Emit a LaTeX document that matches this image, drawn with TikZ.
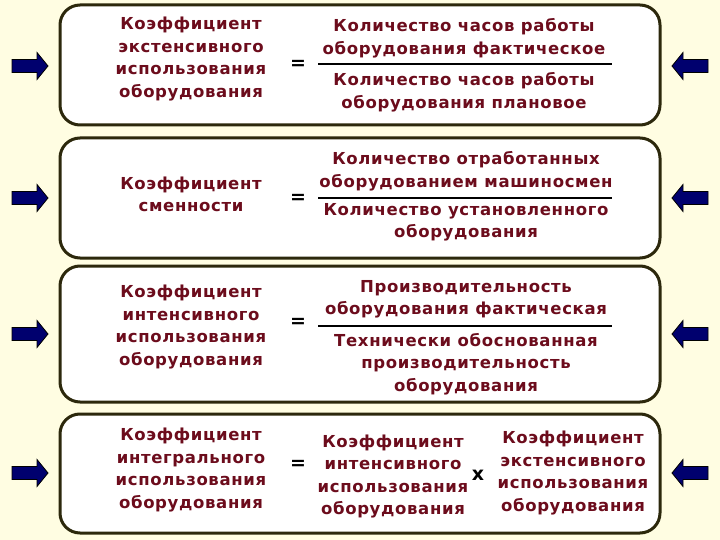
\documentclass[tikz,border=0pt]{standalone}
\usepackage{fontspec}
\setmainfont{DejaVu Sans}[LetterSpace=4]
\usetikzlibrary{positioning}

\definecolor{bgcol}{RGB}{255,253,226}
\definecolor{framecol}{RGB}{44,40,12}
\definecolor{txtcol}{RGB}{108,12,28}
\definecolor{arrcol}{RGB}{0,0,110}

\tikzset{
  panel/.style={draw=framecol, line width=3pt, fill=white, rounded corners=20pt},
  txt/.style={text=txtcol, font=\bfseries\fontsize{16.5}{22.5}\selectfont,
              align=center, inner sep=0pt},
  sym/.style={font=\bfseries\fontsize{19}{19}\selectfont, inner sep=0pt},
  fracline/.style={line width=1.6pt},
  blockarrow/.style={fill=arrcol, draw=black, line width=0.8pt, line join=miter}
}

\begin{document}
\begin{tikzpicture}[x=1pt,y=-1pt]
  \fill[bgcol] (0,0) rectangle (720,540);
  \useasboundingbox (0,0) rectangle (720,540);

  % panels
  \draw[panel] (60,5) rectangle (660,125);
  \draw[panel] (60,138) rectangle (660,258);
  \draw[panel] (60,266) rectangle (660,402);
  \draw[panel] (60,414) rectangle (660,533);

  % arrows on both sides
  \foreach \y in {66,198,334,473}{
    \draw[blockarrow] (12,\y-6.5) -- (37,\y-6.5) -- (37,\y-13.5) -- (48,\y)
      -- (37,\y+13.5) -- (37,\y+6.5) -- (12,\y+6.5) -- cycle;
    \draw[blockarrow] (708,\y-6.5) -- (683,\y-6.5) -- (683,\y-13.5) -- (672,\y)
      -- (683,\y+13.5) -- (683,\y+6.5) -- (708,\y+6.5) -- cycle;
  }

  % extensive
  \node[txt] (ext) at (191,59) {Коэффициент\\экстенсивного\\использования\\оборудования};
  \node[sym] (eq1) at (298,65) {=};
  \node[txt] (num1) at (464,38) {Количество часов работы\\оборудования фактическое};
  \node[txt] (den1) at (464,92) {Количество часов работы\\оборудования плановое};
  \coordinate (l1a) at (318,64);
  \coordinate (l1b) at (612,64);
  \draw[fracline] (l1a) -- (l1b);

  % shift
  \node[txt] (shift) at (191,194.5) {Коэффициент\\сменности};
  \node[sym] (eq2) at (298,199) {=};
  \node[txt] (num2) at (466,171) {Количество отработанных\\оборудованием машиносмен};
  \node[txt] (den2) at (466,222.5) {Количество установленного\\оборудования};
  \coordinate (l2a) at (318,198);
  \coordinate (l2b) at (612,198);
  \draw[fracline] (l2a) -- (l2b);

  % intensive
  \node[txt] (int) at (191,327) {Коэффициент\\интенсивного\\использования\\оборудования};
  \node[sym] (eq3) at (298,323) {=};
  \node[txt] (num3) at (466,299.5) {Производительность\\оборудования фактическая};
  \node[txt] (den3) at (466,364) {Технически обоснованная\\производительность\\оборудования};
  \coordinate (l3a) at (318,326);
  \coordinate (l3b) at (612,326);
  \draw[fracline] (l3a) -- (l3b);

  % integral
  \node[txt] (integ) at (191,470) {Коэффициент\\интегрального\\использования\\оборудования};
  \node[sym] (eq4) at (298,465) {=};
  \node[txt] (fint) at (393,476.5) {Коэффициент\\интенсивного\\использования\\оборудования};
  \node[sym] (times) at (478,475) {x};
  \node[txt] (fext) at (573,473) {Коэффициент\\экстенсивного\\использования\\оборудования};
\end{tikzpicture}
\end{document}
